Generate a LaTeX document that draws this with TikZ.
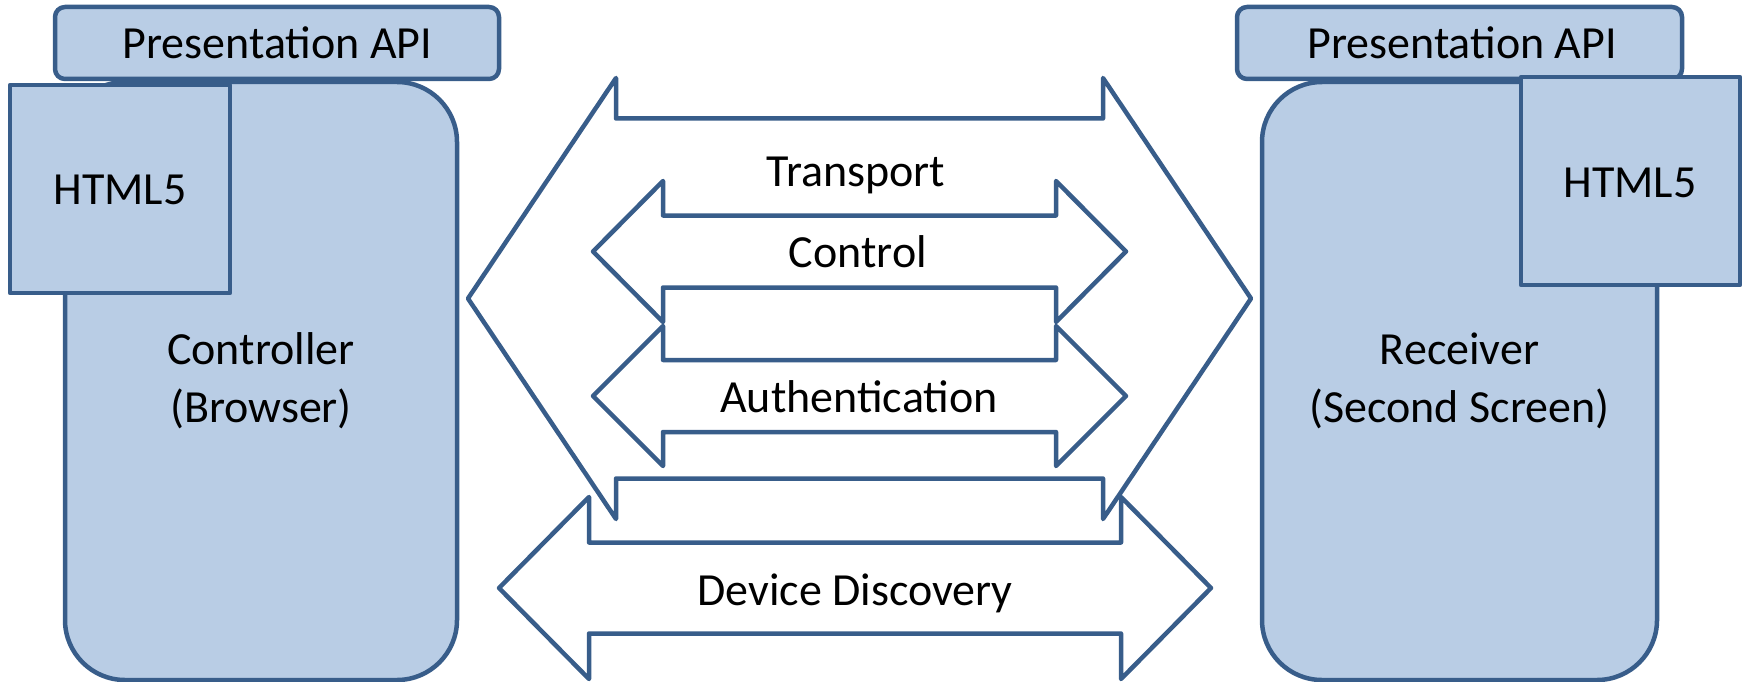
\documentclass[tikz,border=0pt]{standalone}
\usepackage{fontspec}
\setmainfont{Carlito}
\definecolor{boxfill}{HTML}{B9CDE5}
\definecolor{boxline}{HTML}{385D8A}
\tikzset{
  panel/.style={draw=boxline, fill=boxfill, line width=4.5pt, inner sep=0pt, line join=round, rectangle},
  lbl/.style={font=\fontsize{46}{58}\selectfont, inner sep=0pt, text=black},
  flow/.style={draw=boxline, fill=white, line width=4.5pt, line join=round},
}
% cx, cy, half length, head length, head half-width, shaft half-width
\newcommand{\biarrow}[6]{%
  \path[flow] (#1-#3,#2) -- (#1-#3+#4,#2-#5) -- (#1-#3+#4,#2-#6) -- (#1+#3-#4,#2-#6)
    -- (#1+#3-#4,#2-#5) -- (#1+#3,#2) -- (#1+#3-#4,#2+#5) -- (#1+#3-#4,#2+#6)
    -- (#1-#3+#4,#2+#6) -- (#1-#3+#4,#2+#5) -- cycle;}
\begin{document}
\begin{tikzpicture}[x=1pt, y=-1pt]
\useasboundingbox (0,0) rectangle (1747,682);
% left device
\node[panel, rounded corners=60pt, minimum width=392pt, minimum height=598pt,
      lbl, align=center] (ctrl) at (261,381) {Controller\\(Browser)};
\node[panel, rounded corners=10pt, minimum width=444pt, minimum height=72pt] (papiL) at (277,43) {};
\node[lbl, anchor=base] (papiLt) at (277.5,59) {Presentation API};
\node[panel, minimum width=220pt, minimum height=208pt] (htmlL) at (120,189) {};
\node[lbl, anchor=base] (htmlLt) at (120,204) {HTML5};
% right device
\node[panel, rounded corners=60pt, minimum width=395pt, minimum height=598pt,
      lbl, align=center] (recv) at (1459.5,381) {Receiver\\(Second Screen)};
\node[panel, rounded corners=10pt, minimum width=445pt, minimum height=72pt] (papiR) at (1459.5,43) {};
\node[lbl, anchor=base] (papiRt) at (1462,59) {Presentation API};
\node[panel, minimum width=219pt, minimum height=208pt] (htmlR) at (1630.5,181) {};
\node[lbl, anchor=base] (htmlRt) at (1630,197) {HTML5};
% arrows
\biarrow{859.5}{298.5}{391.5}{148}{220.5}{180}
\biarrow{859.5}{251.5}{266.5}{70}{70.5}{36}
\biarrow{859.5}{396}{266.5}{70}{70}{36}
\biarrow{855}{588}{356}{90}{91}{45.5}
\node[lbl, anchor=base] (transport) at (856,186) {Transport};
\node[lbl, anchor=base] (control) at (858,267) {Control};
\node[lbl, anchor=base] (auth) at (859,412) {Authentication};
\node[lbl, anchor=base] (disc) at (855,605) {Device Discovery};
\end{tikzpicture}
\end{document}
